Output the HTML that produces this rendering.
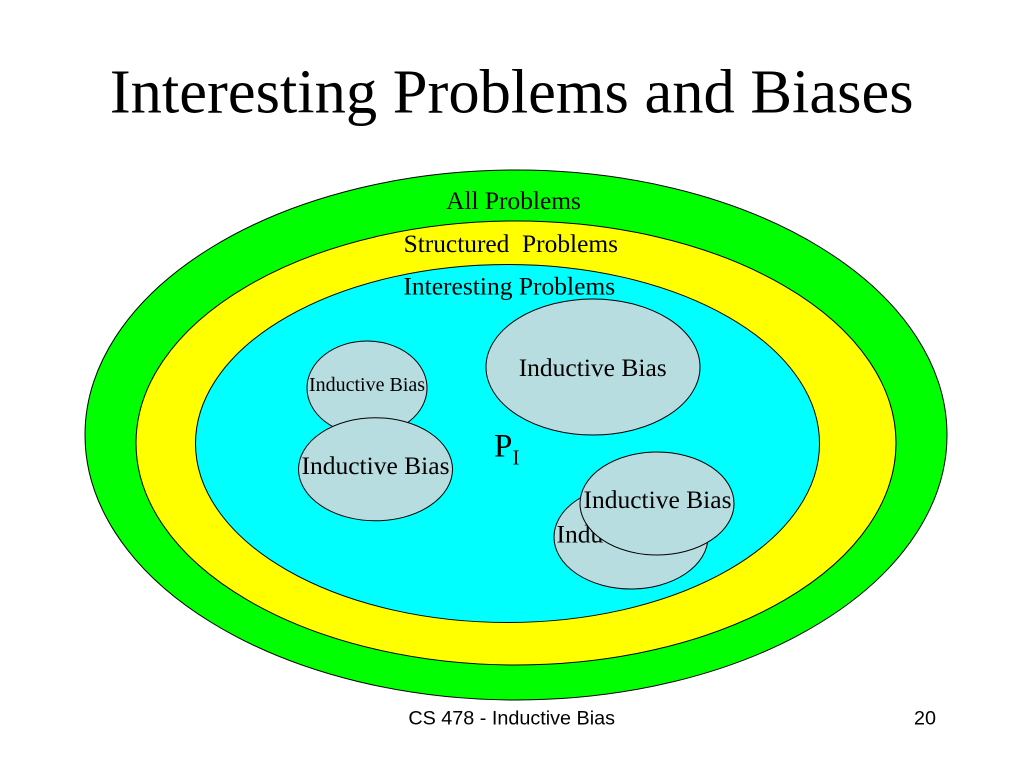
<!DOCTYPE html>
<html>
<head>
<meta charset="utf-8">
<style>
html,body{margin:0;padding:0;background:#fff;width:1024px;height:768px;overflow:hidden}
svg{display:block}
text{font-family:"Liberation Serif",serif;fill:#000}
</style>
</head>
<body>
<svg width="1024" height="768" viewBox="0 0 1024 768" xmlns="http://www.w3.org/2000/svg">
<rect width="1024" height="768" fill="#fff"/>
<text x="511.700" y="112.500" font-size="62.500" text-anchor="middle">Interesting Problems and Biases</text>
<g stroke="#000" stroke-width="1">
<ellipse cx="516" cy="435" rx="431" ry="265" fill="#00ff00"/>
<ellipse cx="516" cy="443" rx="380" ry="222" fill="#ffff00"/>
<ellipse cx="507.500" cy="443.500" rx="312" ry="179" fill="#00ffff"/>
<ellipse cx="593" cy="367" rx="107" ry="68" fill="#b8dde1"/>
<ellipse cx="367" cy="388" rx="60" ry="47" fill="#b8dde1"/>
<ellipse cx="375.500" cy="469.300" rx="77" ry="51.500" fill="#b8dde1"/>
<ellipse cx="631" cy="537" rx="77" ry="52" fill="#b8dde1"/>
</g>
<text x="513.500" y="209" font-size="25.400" text-anchor="middle">All Problems</text>
<text x="510.800" y="252" font-size="25.400" text-anchor="middle" xml:space="preserve">Structured  Problems</text>
<text x="509.300" y="294.500" font-size="25.500" text-anchor="middle">Interesting Problems</text>
<text x="592.700" y="376" font-size="25.500" text-anchor="middle">Inductive Bias</text>
<text x="367" y="391" font-size="20" text-anchor="middle">Inductive Bias</text>
<text x="375.500" y="474" font-size="25.500" text-anchor="middle">Inductive Bias</text>
<text x="556.500" y="542.500" font-size="25.500">Inductive Bias</text>
<ellipse cx="657" cy="503.500" rx="77" ry="51.500" fill="#b8dde1" stroke="#000" stroke-width="1"/>
<text x="657.500" y="508" font-size="25.500" text-anchor="middle">Inductive Bias</text>
<text x="494" y="456.500" font-size="33">P</text>
<text x="512.500" y="464.500" font-size="21">I</text>
<text x="511.700" y="724.500" font-size="19.800" text-anchor="middle" style="font-family:'Liberation Sans',sans-serif">CS 478 - Inductive Bias</text>
<text x="936" y="724.500" font-size="19.800" text-anchor="end" style="font-family:'Liberation Sans',sans-serif">20</text>
</svg>
</body>
</html>
